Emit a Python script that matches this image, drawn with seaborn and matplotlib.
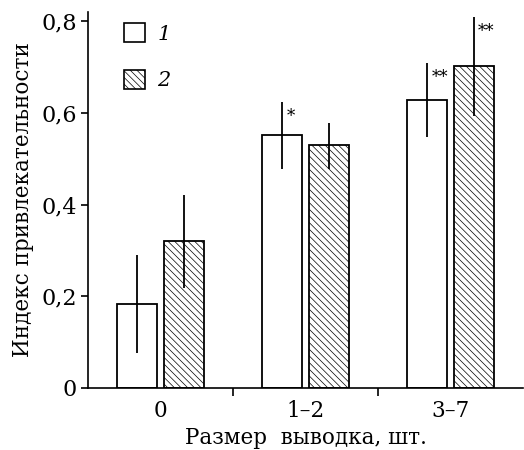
import pandas as pd
import matplotlib
matplotlib.use("Agg")
import matplotlib.pyplot as plt
import seaborn as sns
from matplotlib.patches import Patch

# Данные
grupos = ["0", "1–2", "3–7"]
series = ["1", "2"]
valores_1 = [0.184, 0.552, 0.629]
valores_2 = [0.321, 0.530, 0.702]
err_inf_1 = [0.107, 0.075, 0.082]
err_sup_1 = [0.107, 0.071, 0.079]
err_inf_2 = [0.103, 0.053, 0.108]
err_sup_2 = [0.100, 0.049, 0.107]
estrellas_1 = ["", "*", "**"]
estrellas_2 = ["", "", "**"]
yticks = [0, 0.2, 0.4, 0.6, 0.8]
ytick_labels = ["0", "0,2", "0,4", "0,6", "0,8"]

df = pd.DataFrame({
    "grupo": grupos * 2,
    "serie": [series[0]] * 3 + [series[1]] * 3,
    "valor": valores_1 + valores_2,
})

sns.set_theme(style="white")
plt.rcParams["font.family"] = ["DejaVu Serif"]
plt.rcParams["hatch.linewidth"] = 0.5
plt.rcParams["text.color"] = "black"
plt.rcParams["axes.labelcolor"] = "black"
plt.rcParams["xtick.color"] = "black"
plt.rcParams["ytick.color"] = "black"

fig = plt.figure(figsize=(5.24, 4.5), dpi=100)
ax = fig.add_axes([0.168, 0.138, 0.83, 0.835])

sns.barplot(
    data=df, x="grupo", y="valor", hue="serie", order=grupos, hue_order=series,
    palette=["white", "white"], edgecolor="black", linewidth=1.3,
    width=0.64, gap=0.14, errorbar=None, legend=False, ax=ax,
)

# hatch para la serie 2 y barras de error
parches = ax.patches[:6]
for i, p in enumerate(parches):
    xc = p.get_x() + p.get_width() / 2
    g = i % 3
    if i >= 3:
        p.set_hatch("\\\\\\\\\\")
        v, lo, hi, st = valores_2[g], err_inf_2[g], err_sup_2[g], estrellas_2[g]
    else:
        v, lo, hi, st = valores_1[g], err_inf_1[g], err_sup_1[g], estrellas_1[g]
    ax.errorbar(xc, v, yerr=[[lo], [hi]], fmt="none", ecolor="black",
                elinewidth=1.3, capsize=0)
    if st:
        ax.annotate(st, (xc, v + hi), xytext=(3, -4), textcoords="offset points",
                    ha="left", va="top", fontsize=12)

ax.set_xlim(-0.5, 2.5)
ax.set_ylim(0, 0.82)
ax.set_yticks(yticks)
ax.set_yticklabels(ytick_labels)
ax.set_xticks([0, 1, 2])
ax.set_xticklabels(grupos)
ax.set_xticks([0.5, 1.5], minor=True)
ax.tick_params(axis="x", which="major", length=0, pad=9, labelsize=15.5)
ax.tick_params(axis="x", which="minor", length=6, width=1.2, direction="out",
               bottom=True, color="black")
ax.tick_params(axis="y", length=5, width=1.2, direction="out", left=True,
               labelsize=16, color="black", pad=3)

sns.despine(ax=ax)
for s in ["left", "bottom"]:
    ax.spines[s].set_color("black")
    ax.spines[s].set_linewidth(1.2)

ax.set_xlabel("Размер  выводка, шт.", fontsize=15.5, labelpad=3)
ax.set_ylabel("Индекс привлекательности", fontsize=15.5, labelpad=5)

handles = [
    Patch(facecolor="white", edgecolor="black", linewidth=1.2),
    Patch(facecolor="white", edgecolor="black", linewidth=1.2, hatch="\\\\\\\\\\"),
]
leg = ax.legend(handles, series, loc="upper left", bbox_to_anchor=(0.04, 1.02),
                frameon=False, handlelength=1.0, handleheight=1.0,
                labelspacing=1.25, fontsize=15, handletextpad=0.6)
for t in leg.get_texts():
    t.set_fontstyle("italic")

plt.savefig("out.png", dpi=100)
plt.close()
